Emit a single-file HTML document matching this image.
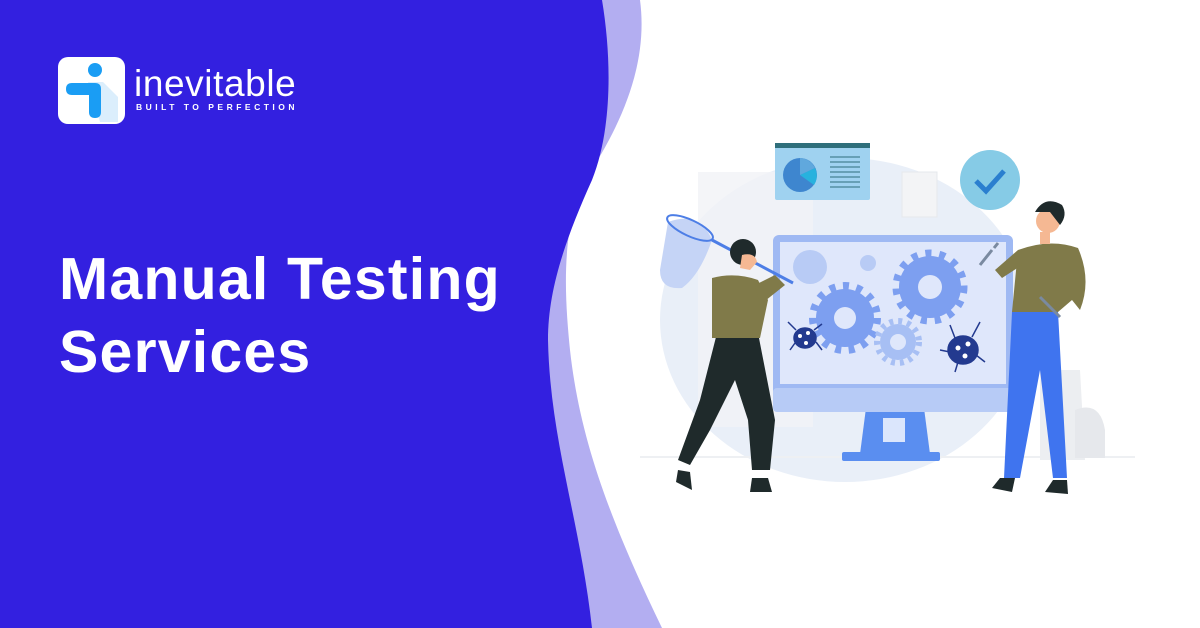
<!DOCTYPE html>
<html><head><meta charset="utf-8"><style>
html,body{margin:0;padding:0}
body{width:1200px;height:628px;overflow:hidden;background:#fff;position:relative;font-family:"Liberation Sans",sans-serif}
svg{position:absolute;left:0;top:0}
.t{position:absolute;left:59px;color:#fff;font-weight:bold;font-size:59px;letter-spacing:1.2px;line-height:1}
</style></head><body>
<svg width="1200" height="628" viewBox="0 0 1200 628">
<path d="M0 0 L640 0 C648 60 625 120 585 180 C560 230 565 300 570 350 C580 440 610 520 662 628 L0 628 Z" fill="#b3aef1"/>
<path d="M0 0 L602 0 C612 60 612 130 592 180 C565 240 548 290 548 340 C550 440 580 520 592 628 L0 628 Z" fill="#3320e0"/>
<rect x="58" y="57" width="67" height="67" rx="10" fill="#fff"/>
<path d="M88 82 L103 82 L118 97 L118 122 L100 122 Z" fill="#dbeefc"/>
<circle cx="95" cy="70" r="7" fill="#1a9df4"/>
<path d="M72 83 L95 83 Q101 83 101 89 L101 112 Q101 118 95 118 Q89 118 89 112 L89 95 L72 95 Q66 95 66 89 Q66 83 72 83 Z" fill="#1a9df4"/>
<text x="134" y="96" fill="#fff" font-family="Liberation Sans, sans-serif" font-size="37" font-weight="300" letter-spacing="0.6">inevitable</text>
<text x="136" y="110" fill="#fff" font-family="Liberation Sans, sans-serif" font-size="8.5" font-weight="bold" letter-spacing="3.5">BUILT TO PERFECTION</text>
<ellipse cx="845" cy="320" rx="185" ry="162" fill="#e9eff8"/>
<rect x="698" y="172" width="115" height="255" fill="#f1f3f6" opacity="0.8"/>
<rect x="902" y="172" width="35" height="45" fill="#f3f4f6" stroke="#e6e8ec"/>
<line x1="640" y1="457" x2="1135" y2="457" stroke="#eef0f3" stroke-width="2"/>
<path d="M1040 370 L1080 370 L1085 460 L1040 460 Z" fill="#eceef1"/>
<path d="M1075 410 Q1100 400 1105 430 L1105 458 L1075 458 Z" fill="#e6e8ec"/>
<rect x="842" y="452" width="98" height="9" rx="2" fill="#5a8ef0"/>
<path d="M866 408 L924 408 L930 454 L860 454 Z" fill="#5a8ef0"/>
<rect x="883" y="418" width="22" height="24" fill="#dbe6fc"/>
<rect x="773" y="235" width="240" height="177" rx="6" fill="#9fb9f3"/>
<rect x="773" y="388" width="240" height="24" rx="4" fill="#b7cbf6"/>
<rect x="780" y="242" width="226" height="142" fill="#dfe7fb"/>
<circle cx="810" cy="267" r="17" fill="#b8cbf5"/>
<circle cx="868" cy="263" r="8" fill="#b8cbf5"/>
<g fill="#7d9ff0">
<circle cx="930" cy="287" r="31"/>
<circle cx="930" cy="287" r="33" fill="none" stroke="#7d9ff0" stroke-width="9" stroke-dasharray="6 7.7"/>
<circle cx="845" cy="318" r="29"/>
<circle cx="845" cy="318" r="32" fill="none" stroke="#7d9ff0" stroke-width="8" stroke-dasharray="6 7.5"/>
</g>
<circle cx="898" cy="342" r="18" fill="#a7bff4"/>
<circle cx="898" cy="342" r="21" fill="none" stroke="#a7bff4" stroke-width="6" stroke-dasharray="4 5"/>
<circle cx="930" cy="287" r="12" fill="#dfe7fb"/>
<circle cx="845" cy="318" r="11" fill="#dfe7fb"/>
<circle cx="898" cy="342" r="8" fill="#dfe7fb"/>
<g fill="#233a8f" stroke="#233a8f" stroke-width="1.5">
<ellipse cx="805" cy="338" rx="11" ry="10"/>
<path d="M796 330 L788 322 M814 330 L822 324 M795 343 L790 350 M816 342 L822 350" fill="none"/>
<ellipse cx="963" cy="350" rx="15" ry="14"/>
<path d="M955 338 L950 325 M972 337 L980 322 M950 352 L940 350 M976 355 L985 362 M958 362 L955 372" fill="none"/>
</g>
<g fill="#fff"><circle cx="800" cy="336" r="2"/><circle cx="808" cy="333" r="2"/><circle cx="806" cy="343" r="2"/><circle cx="958" cy="348" r="2.5"/><circle cx="968" cy="344" r="2.5"/><circle cx="965" cy="356" r="2.5"/></g>
<rect x="775" y="143" width="95" height="57" rx="2" fill="#9fd2f0"/>
<rect x="775" y="143" width="95" height="5" fill="#2f6f7b"/>
<circle cx="800" cy="175" r="17" fill="#3e86cf"/>
<path d="M800 175 L815 168 A17 17 0 0 1 814 185 Z" fill="#28b2de"/>
<path d="M800 175 L800 158 A17 17 0 0 1 815 168 Z" fill="#60a8dd"/>
<g stroke="#2f6f7b" stroke-width="1"><line x1="830" y1="157" x2="860" y2="157"/><line x1="830" y1="162" x2="860" y2="162"/><line x1="830" y1="167" x2="860" y2="167"/><line x1="830" y1="172" x2="860" y2="172"/><line x1="830" y1="177" x2="860" y2="177"/><line x1="830" y1="182" x2="860" y2="182"/><line x1="830" y1="187" x2="860" y2="187"/></g>
<circle cx="990" cy="180" r="30" fill="#86cbe6"/>
<path d="M976 181 L986 191 L1004 171" fill="none" stroke="#2a7fcf" stroke-width="5"/>
<path d="M668 222 Q700 210 712 240 Q700 275 682 288 Q660 290 660 270 Z" fill="#c5d4f6"/>
<ellipse cx="690" cy="228" rx="25" ry="8" transform="rotate(25 690 228)" fill="none" stroke="#4d7ee6" stroke-width="2"/>
<line x1="712" y1="240" x2="793" y2="283" stroke="#4d7ee6" stroke-width="3"/>
<path d="M716 337 L758 333 L775 420 L770 470 L752 470 L748 420 L735 380 L710 430 L690 465 L678 460 L700 400 Z" fill="#1f2a2b"/>
<path d="M712 278 Q735 272 758 280 L768 300 L760 338 L712 338 Z" fill="#807a49"/>
<path d="M755 285 L775 275 L785 285 L760 305 Z" fill="#807a49"/>
<circle cx="743" cy="252" r="13" fill="#1f2a2b"/>
<path d="M742 255 Q755 252 757 262 L750 270 L740 268 Z" fill="#f5b893"/>
<path d="M678 470 L690 472 L692 490 L676 482 Z" fill="#1f2a2b"/>
<path d="M752 478 L768 478 L772 492 L750 492 Z" fill="#1f2a2b"/>
<path d="M1012 312 L1058 312 L1067 478 L1053 478 L1040 370 L1020 478 L1004 478 Z" fill="#3f74ef"/>
<path d="M1018 250 Q1050 238 1078 248 Q1092 280 1080 310 L1072 300 L1058 312 L1012 312 Z" fill="#807a49"/>
<path d="M1018 250 L995 270 L1002 278 L1022 265 Z" fill="#807a49"/>
<circle cx="1048" cy="221" r="12" fill="#f5b893"/>
<path d="M1035 212 Q1045 195 1062 205 Q1068 215 1060 225 L1050 212 Z" fill="#1f2a2b"/>
<rect x="1040" y="232" width="10" height="12" fill="#f5b893"/>
<path d="M980 265 L992 250 M994 248 L998 243" stroke="#7a8aa0" stroke-width="3"/>
<line x1="1040" y1="297" x2="1060" y2="317" stroke="#7a8aa0" stroke-width="3"/>
<path d="M1000 478 L1015 478 L1012 492 L992 488 Z" fill="#1f2a2b"/>
<path d="M1053 480 L1067 480 L1068 494 L1045 492 Z" fill="#1f2a2b"/>
</svg>
<div class="t" style="top:250px">Manual Testing</div>
<div class="t" style="top:323px">Services</div>
</body></html>
